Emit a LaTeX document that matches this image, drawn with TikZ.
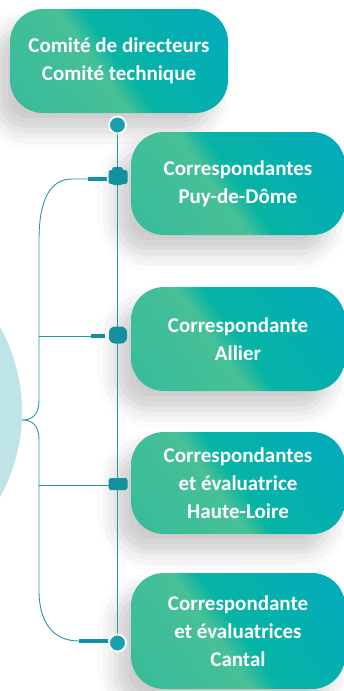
\documentclass[tikz,border=0pt]{standalone}
\usepackage{fontspec}
\setmainfont{Carlito}
\usetikzlibrary{shadows.blur}
\definecolor{linkteal}{HTML}{2596A6}
\definecolor{dotteal}{HTML}{1A9FAF}
\definecolor{plugteal}{HTML}{13919F}
\definecolor{hubpale}{HTML}{BFE4E8}
\definecolor{boxgreen}{HTML}{2FB99B}
\definecolor{boxlight}{HTML}{46C097}
\definecolor{boxmid}{HTML}{06B4A4}
\definecolor{boxblue}{HTML}{00A6C8}
\pgfdeclarehorizontalshading{boxshade}{100bp}{color(0bp)=(boxgreen); color(44bp)=(boxlight); color(50bp)=(boxmid); color(100bp)=(boxblue)}

\begin{document}
\begin{tikzpicture}[x=1pt,y=-1pt,
		box/.style={rounded corners=33pt, shade, shading=boxshade, shading angle=35, text=white, align=center, inner sep=0pt,
			font=\fontsize{21}{28}\selectfont\bfseries,
			blur shadow={shadow xshift=-15pt, shadow yshift=-18pt, shadow blur radius=18pt, shadow opacity=20}},
		link/.style={line width=0.9pt, color=linkteal},
		bar/.style={line width=4.5pt, color=plugteal},
		plug/.style={fill=plugteal, rounded corners=2.5pt, inner sep=0pt},
		dot/.style={circle, fill=dotteal, draw=white, line width=1.8pt, minimum size=17pt, inner sep=0pt}]
		%%%%% START %%%%%
		
		\clip (0, 0) rectangle (344, 691);
		
		% hub off the page
		\fill[hubpale] (-153, 412) circle (175pt);
		
		% boxes
		\node[box, minimum width=218pt, minimum height=104pt] (board) at (119, 61) {Comité de directeurs\\Comité technique};
		\node[box, minimum width=214pt, minimum height=103pt] (puy) at (238, 183.5) {Correspondantes\\Puy-de-Dôme};
		\node[box, minimum width=214pt, minimum height=104pt] (allier) at (238, 339) {Correspondante\\Allier};
		\node[box, minimum width=214pt, minimum height=102pt] (hloire) at (238, 483) {Correspondantes\\et évaluatrice\\Haute-Loire};
		\node[box, minimum width=214pt, minimum height=116pt] (cantal) at (238, 631) {Correspondante\\et évaluatrices\\Cantal};
		
		% trunk
		\coordinate (trunk-top) at (117.5, 125);
		\coordinate (trunk-end) at (117.5, 643);
		\draw[link] (trunk-top) -- (trunk-end);
		
		% brace
		\coordinate (hub) at (22, 420);
		\coordinate (puy-a) at (88, 179);
		\coordinate (puy-b) at (107, 179);
		\coordinate (allier-a) at (91, 336);
		\coordinate (allier-b) at (105, 336);
		\coordinate (cantal-a) at (79, 641);
		\coordinate (cantal-b) at (108, 641);
		\draw[link] (puy-a) -- (72, 179) .. controls (50, 179) and (39, 200) .. (39, 240) -- (39, 400)
			.. controls (39, 415) and (32, 420) .. (hub)
			.. controls (32, 420) and (39, 425) .. (39, 440) -- (39, 590)
			.. controls (39, 625) and (55, 641) .. (cantal-a);
		\draw[link] (39, 336) -- (allier-a);
		\draw[link] (39, 485) -- (118, 485);
		
		% plugs
		\draw[bar] (puy-a) -- (puy-b);
		\draw[bar] (allier-a) -- (allier-b);
		\draw[bar] (cantal-a) -- (cantal-b);
		\node[plug, minimum width=19pt, minimum height=14pt] (puy-plug) at (118, 177) {};
		\node[plug, minimum width=11pt, minimum height=18pt] at (117.5, 176) {};
		\node[plug, rounded corners=6pt, minimum width=18pt, minimum height=17pt] (allier-plug) at (118, 335) {};
		\node[plug, minimum width=19pt, minimum height=12pt] (hloire-plug) at (118, 484) {};
		\node[dot] (top-dot) at (trunk-top) {};
		\node[dot] (end-dot) at (trunk-end) {};
		
		%%%%% END %%%%%
	\end{tikzpicture}
\end{document}
